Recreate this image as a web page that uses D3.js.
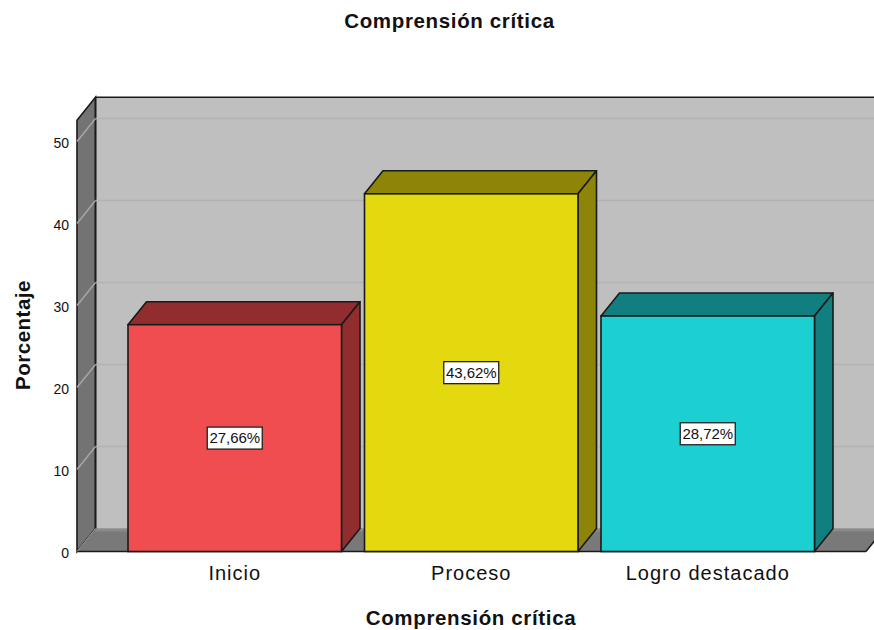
<!DOCTYPE html>
<html><head><meta charset="utf-8">
<script src="https://cdn.jsdelivr.net/npm/d3@7"></script>
<style>html,body{margin:0;padding:0;background:#fff}svg{display:block}text{font-family:"Liberation Sans",Arial,sans-serif;fill:#111}</style>
</head><body><svg id="c" width="874" height="630"></svg>
<script>
const categories = ["Inicio","Proceso","Logro destacado"];
const values = [27.66,43.62,28.72];
const valueLabels = ["27,66%","43,62%","28,72%"];
const frontColors = ["#ef4d4f","#e3d90e","#1ccfd0"];
const sideColors = ["#922d2f","#8d8408","#117f80"];
const yTicks = [0,10,20,30,40,50];
const chartTitle = "Comprensión crítica";
const yTitle = "Porcentaje";
const xTitle = "Comprensión crítica";

const svg = d3.select("#c");
const dx = 18.5, dy = -23;
const y = d3.scaleLinear().domain([0,50]).range([551.5,141.5]);
const yMax = 52.6;
const x = d3.scaleBand().domain(categories).range([116.5,826]).paddingInner(0.0972).paddingOuter(0.0486);
const left = 77, right = 866;
const stroke = "#1a1a1a";
const poly = pts => pts.map(p=>p.join(",")).join(" ");

svg.append("polygon").attr("points",poly([[left+dx,y(yMax)+dy],[900,y(yMax)+dy],[900,y(0)+dy],[left+dx,y(0)+dy]])).attr("fill","#bfbfbf");
svg.append("line").attr("x1",left+dx).attr("x2",874).attr("y1",y(yMax)+dy).attr("y2",y(yMax)+dy).attr("stroke",stroke).attr("stroke-width",1.5);
svg.append("polygon").attr("points",poly([[left,y(yMax)],[left+dx,y(yMax)+dy],[left+dx,y(0)+dy],[left,y(0)]])).attr("fill","#737373").attr("stroke",stroke).attr("stroke-width",1.6);
svg.append("polygon").attr("points",poly([[left,y(0)],[left+dx,y(0)+dy],[right+dx,y(0)+dy],[right,y(0)]])).attr("fill","#797979");
svg.append("rect").attr("x",left+dx).attr("y",y(0)+dy).attr("width",800).attr("height",3).attr("fill","#8a8a8a");
svg.append("line").attr("x1",left).attr("x2",right).attr("y1",y(0)).attr("y2",y(0)).attr("stroke",stroke).attr("stroke-width",1.5);
svg.append("line").attr("x1",right).attr("x2",right+dx).attr("y1",y(0)).attr("y2",y(0)+dy).attr("stroke",stroke).attr("stroke-width",1.5);
svg.append("line").attr("x1",left+dx).attr("x2",left+dx).attr("y1",y(yMax)+dy).attr("y2",y(0)+dy).attr("stroke",stroke).attr("stroke-width",1.6);
yTicks.forEach(t=>{
  if(t>0) svg.append("line").attr("x1",left+dx).attr("x2",874).attr("y1",y(t)+dy).attr("y2",y(t)+dy).attr("stroke","#b2b2b2").attr("stroke-width",1.5);
  svg.append("line").attr("x1",left).attr("x2",left+dx).attr("y1",y(t)).attr("y2",y(t)+dy).attr("stroke",t>0?"#a6a6a6":"#999").attr("stroke-width",t>0?1.5:1);
});
const bars = svg.append("g").selectAll("g").data(categories).join("g");
bars.each(function(c,i){
  const g = d3.select(this), x0 = x(c), x1 = x0 + x.bandwidth(), yt = y(values[i]), yb = y(0);
  g.append("polygon").attr("points",poly([[x0,yt],[x0+dx,yt+dy],[x1+dx,yt+dy],[x1,yt]])).attr("fill",sideColors[i]).attr("stroke",stroke).attr("stroke-width",1.6).attr("stroke-linejoin","round");
  g.append("polygon").attr("points",poly([[x1,yt],[x1+dx,yt+dy],[x1+dx,yb+dy],[x1,yb]])).attr("fill",sideColors[i]).attr("stroke",stroke).attr("stroke-width",1.6).attr("stroke-linejoin","round");
  g.append("rect").attr("x",x0).attr("y",yt).attr("width",x.bandwidth()).attr("height",yb-yt).attr("fill",frontColors[i]).attr("stroke",stroke).attr("stroke-width",1.6);
  const cx = x0 + x.bandwidth()/2, cy = y(values[i]/2);
  g.append("rect").attr("x",cx-27.5).attr("y",cy-11).attr("width",55).attr("height",22).attr("fill","#fff").attr("stroke","#222").attr("stroke-width",1.3);
  g.append("text").attr("x",cx).attr("y",cy+5).attr("text-anchor","middle").attr("font-size",15).attr("letter-spacing",-0.1).text(valueLabels[i]);
});
const ya = svg.append("g").attr("transform",`translate(${left-8},2)`).call(d3.axisLeft(y).tickValues(yTicks).tickSize(0).tickPadding(0));
ya.select(".domain").remove();
ya.selectAll("text").attr("font-size",14).style("font-family",'"Liberation Sans",Arial,sans-serif').attr("fill","#222");
const xa = svg.append("g").attr("transform",`translate(0,${y(0)+13})`).call(d3.axisBottom(x).tickSize(0).tickPadding(0));
xa.select(".domain").remove();
xa.selectAll("text").attr("font-size",20).attr("dy","0.75em").attr("letter-spacing",1).style("font-family",'"Liberation Sans",Arial,sans-serif').attr("fill","#333");
svg.append("text").attr("x",449.5).attr("y",28).attr("text-anchor","middle").attr("font-size",20.5).attr("letter-spacing",0.65).attr("font-weight","bold").text(chartTitle);
svg.append("text").attr("x",471).attr("y",625).attr("text-anchor","middle").attr("font-size",20.5).attr("letter-spacing",0.65).attr("font-weight","bold").text(xTitle);
svg.append("text").attr("transform","translate(30,335) rotate(-90)").attr("text-anchor","middle").attr("font-size",20.5).attr("letter-spacing",0.5).attr("font-weight","bold").text(yTitle);
</script></body></html>
